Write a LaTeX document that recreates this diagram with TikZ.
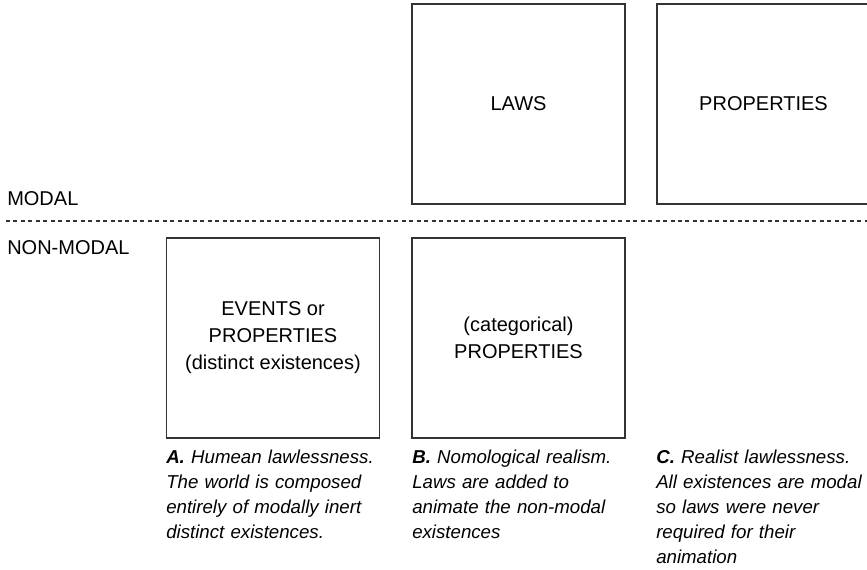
\documentclass[tikz,border=0pt]{standalone}
\usepackage{fontspec}
\setmainfont{Liberation Sans}
\begin{document}
\begin{tikzpicture}[x=0.75pt,y=-0.75pt,
  box/.style={draw=black!80,line width=1.1pt,rectangle,inner sep=0pt,
    minimum width=213*0.75pt,minimum height=200*0.75pt,align=center,
    font=\fontsize{15}{20.25}\selectfont},
  level/.style={anchor=base west,inner sep=0pt,font=\fontsize{15}{18}\selectfont},
  caption/.style={anchor=base west,inner sep=0pt,align=left,text width=165pt,
    font=\fontsize{14}{18.75}\selectfont\itshape},
  divider/.style={line width=1pt,black!80,dash pattern=on 3pt off 2.6pt}]
  \useasboundingbox (0,0) rectangle (867,569);
  \clip (0,0) rectangle (867,569);

  % modal row
  \node[box] (laws) at (518.5,104) {LAWS};
  \node[box] (props) at (763.5,104) {PROPERTIES};

  % boundary between the two levels
  \coordinate (divl) at (6,221);
  \coordinate (divr) at (867,221);
  \draw[divider] (divl) -- (divr);
  \node[level] (modal) at (7,205) {MODAL};
  \node[level] (nonmodal) at (7,254) {NON-MODAL};

  % non-modal row
  \node[box] (events) at (273,338) {EVENTS or\\PROPERTIES\\(distinct existences)};
  \node[box] (catprops) at (518.5,338) {(categorical)\\PROPERTIES};

  % captions
  \node[caption] (capA) at (166,463) {\textbf{A.} Humean lawlessness.\\The world is composed\\entirely of modally inert\\distinct existences.};
  \node[caption] (capB) at (412,463) {\textbf{B.} Nomological realism.\\Laws are added to\\animate the non-modal\\existences};
  \node[caption] (capC) at (656,463) {\textbf{C.} Realist lawlessness.\\All existences are modal\\so laws were never\\required for their\\animation};
\end{tikzpicture}
\end{document}
